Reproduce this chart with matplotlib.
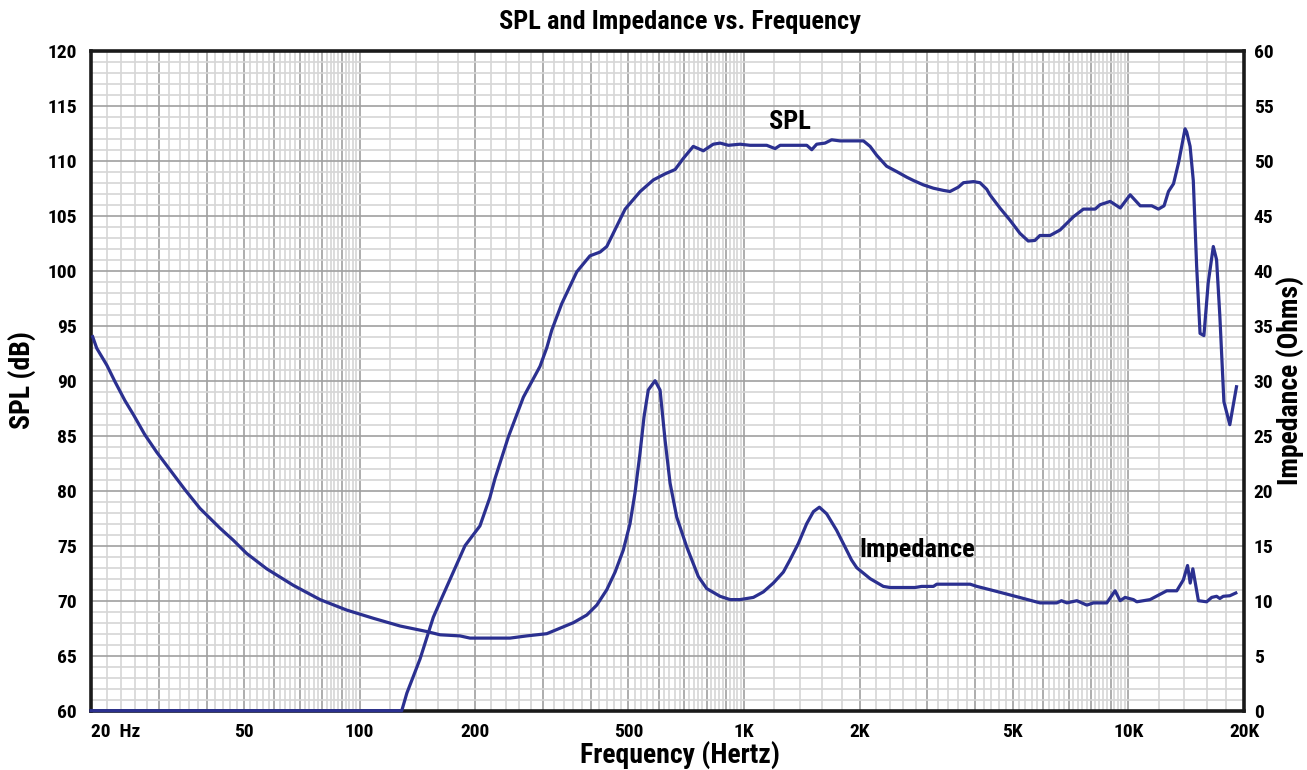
import numpy as np
import matplotlib
matplotlib.use("Agg")
import matplotlib.pyplot as plt
from matplotlib import font_manager
from matplotlib.ticker import FixedLocator, FuncFormatter, MultipleLocator

# choose a narrow bold sans if available
_names = sorted({f.name for f in font_manager.fontManager.ttflist})
_narrow = [n for n in _names if ('Narrow' in n or 'Condensed' in n) and 'Mono' not in n]
_pref = ['Liberation Sans Narrow', 'Roboto Condensed', 'Open Sans Condensed', 'DejaVu Sans Condensed']
_chosen = None
for p in _pref:
    if p in _names:
        _chosen = p
        break
if _chosen is None and _narrow:
    _chosen = _narrow[0]
if _chosen is None:
    _chosen = 'Liberation Sans'
FONT = [_chosen, 'DejaVu Sans']
plt.rcParams['font.family'] = FONT
plt.rcParams['font.weight'] = 'bold'

# ---- data ----
spl_freq = [20, 128.7, 132.7, 143.6, 155.5, 161.9, 188, 205.6, 218.3, 225, 243.8, 266.7,
            294.6, 306.9, 316.2, 335.6, 367.3, 397.4, 422.5, 439.6, 490.7, 537, 581, 623,
            662, 695, 738, 784, 832, 867, 911, 977, 1037, 1146, 1205, 1242, 1457, 1501,
            1546, 1625, 1691, 1778, 2046, 2129, 2214, 2350, 2500, 2652, 2761, 2930, 3111,
            3303, 3436, 3614, 3724, 3953, 4112, 4283, 4365, 4634, 4920, 5223, 5490, 5715,
            5887, 6257, 6645, 7196, 7641, 8197, 8446, 8972, 9529, 10110, 10740, 11510,
            11980, 12390, 12720, 13110, 13510, 14050, 14190, 14480, 14760, 15060, 15370,
            15730, 16140, 16640, 16970, 17310, 17730, 18370, 19120]
spl_db = [60, 60, 61.6, 64.7, 68.5, 69.9, 75.0, 76.8, 79.4, 81.1, 84.9, 88.5,
          91.3, 93.0, 94.6, 97.0, 99.9, 101.35, 101.7, 102.2, 105.6, 107.2, 108.25, 108.8,
          109.2, 110.2, 111.3, 110.9, 111.5, 111.6, 111.4, 111.5, 111.4, 111.4, 111.1, 111.4, 111.4, 111.0,
          111.5, 111.6, 111.9, 111.8, 111.8, 111.3, 110.5, 109.5, 109.0, 108.5, 108.2, 107.8, 107.5,
          107.3, 107.2, 107.6, 108.0, 108.1, 108.0, 107.4, 106.9, 105.7, 104.6, 103.4, 102.7, 102.75,
          103.2, 103.2, 103.7, 104.9, 105.6, 105.6, 106.0, 106.3, 105.7, 106.9, 105.9, 105.9,
          105.6, 105.9, 107.2, 107.9, 109.8, 112.9, 112.6, 111.3, 108.2, 100.4, 94.3,
          94.1, 98.9, 102.2, 101.0, 95.8, 88.1, 86.0, 89.45]

imp_freq = [20.2, 20.7, 22.0, 23.1, 24.5, 25.8, 27.6, 29.65, 32.1, 35.1, 38.4, 43.3, 46.9,
            50.8, 57.3, 67.2, 78.9, 92.5, 108.6, 127.4, 149.4, 161.9, 182.4, 193.7, 246.2,
            272.2, 306.8, 332.2, 359.8, 390, 414, 439.6, 462, 485.3, 505.2, 520.5, 536.4,
            549.4, 563.6, 587, 604.9, 623.3, 642.2, 668.4, 709.6, 760.7, 800, 866.6, 920,
            977, 1058, 1123, 1192, 1266, 1317, 1385, 1456, 1516, 1571, 1641, 1742, 1831,
            1905, 1965, 2130, 2305, 2400, 2787, 2900, 3111, 3174, 3877, 4036, 4365, 4832,
            5339, 5892, 6514, 6700, 6920, 7348, 7800, 8113, 8790, 9237, 9520, 9810, 10310,
            10520, 11390, 12590, 13370, 13910, 14260, 14490, 14720, 15220, 15990, 16480,
            16970, 17310, 17660, 18370, 19040]
imp_ohm = [34.0, 32.95, 31.4, 29.9, 28.2, 26.9, 25.1, 23.5, 21.9, 20.1, 18.4, 16.6, 15.5,
           14.3, 12.9, 11.4, 10.1, 9.15, 8.4, 7.7, 7.2, 6.9, 6.8, 6.6, 6.6,
           6.8, 7.0, 7.5, 8.0, 8.7, 9.6, 11.0, 12.6, 14.6, 17.0, 19.8, 23.4,
           26.7, 29.15, 30.0, 29.15, 24.6, 20.7, 17.6, 14.9, 12.2, 11.1, 10.4, 10.1,
           10.1, 10.3, 10.8, 11.6, 12.6, 13.7, 15.2, 17.0, 18.1, 18.5, 17.9, 16.4, 14.9,
           13.7, 13.0, 12.0, 11.3, 11.2, 11.2, 11.3, 11.3, 11.5, 11.5, 11.3, 11.0, 10.6,
           10.2, 9.8, 9.8, 10.0, 9.8, 10.0, 9.6, 9.8, 9.8, 10.9, 10.0, 10.3, 10.1,
           9.9, 10.1, 10.9, 10.9, 11.9, 13.2, 11.6, 12.9, 10.0, 9.9, 10.3,
           10.4, 10.2, 10.4, 10.45, 10.7]

xtick_vals = [20, 50, 100, 200, 500, 1000, 2000, 5000, 10000, 20000]
xtick_labels = ['20  Hz', '50', '100', '200', '500', '1K', '2K', '5K', '10K', '20K']

LINE = '#2b3090'
DARK = '#a0a0a0'
LIGHT = '#d6d6d6'

fig = plt.figure(figsize=(13.07, 7.70), dpi=100)
ax = fig.add_axes([91/1307, (770-710.7)/770, (1244-91)/1307, (710.7-50.7)/770])
ax.set_xscale('log')
ax.set_xlim(20, 20000)
ax.set_ylim(60, 120)

# grid positions: dark at n*10^k, light every 0.2*10^k
major_x = []
minor_x = []
for k in range(1, 5):
    base = 10 ** k
    for n in range(1, 10):
        v = n * base
        if 20 <= v <= 20000:
            major_x.append(v)
    for m in range(5, 50):
        v = m * 0.2 * base
        if 20 < v < 20000 and abs(v / base - round(v / base)) > 1e-9 and v < 10 * base:
            minor_x.append(v)
ax.xaxis.set_major_locator(FixedLocator(major_x))
ax.xaxis.set_minor_locator(FixedLocator(minor_x))
ax.yaxis.set_major_locator(MultipleLocator(5))
ax.yaxis.set_minor_locator(MultipleLocator(1))

ax.grid(True, which='minor', color=LIGHT, lw=1.2, zorder=0)
ax.grid(True, which='major', color=DARK, lw=1.2, zorder=1)
ax.set_axisbelow(True)

lab = dict(zip(xtick_vals, xtick_labels))
ax.xaxis.set_major_formatter(FuncFormatter(lambda v, p: lab.get(int(round(v)), '')))
ax.xaxis.set_minor_formatter(FuncFormatter(lambda v, p: ''))
ax.tick_params(axis='both', which='both', length=0)
ax.tick_params(axis='x', which='major', pad=9, labelsize=14)
ax.tick_params(axis='y', which='major', pad=10, labelsize=14)
for t in ax.get_xticklabels():
    if t.get_text().startswith('20 '):
        t.set_horizontalalignment('left')
for t in ax.get_xticklabels() + ax.get_yticklabels():
    t.set_fontweight('bold')

for s in ax.spines.values():
    s.set_linewidth(2.6)
    s.set_color('#1a1a1a')

ax2 = ax.twinx()
ax2.set_ylim(0, 60)
ax2.yaxis.set_major_locator(MultipleLocator(5))
ax2.tick_params(axis='y', length=0, pad=7, labelsize=14)
for t in ax2.get_yticklabels():
    t.set_fontweight('bold')
for s in ax2.spines.values():
    s.set_visible(False)

ax.plot(spl_freq, spl_db, color=LINE, lw=2.3, zorder=5, clip_on=False, solid_joinstyle='round')
ax2.plot(imp_freq, imp_ohm, color=LINE, lw=2.3, zorder=5, clip_on=False, solid_joinstyle='round')

ax.text(1318, 113.5, 'SPL', fontsize=19, fontweight='bold', ha='center', va='center', zorder=6)
ax.text(2820, 74.6, 'Impedance', fontsize=19, fontweight='bold', ha='center', va='center', zorder=6)

fig.text(680/1307, 1 - 22/770, 'SPL and Impedance vs. Frequency', fontsize=19,
         fontweight='bold', ha='center', va='center')
fig.text(680/1307, 1 - 755/770, 'Frequency (Hertz)', fontsize=20,
         fontweight='bold', ha='center', va='center')
fig.text(22/1307, 1 - 380/770, 'SPL (dB)', fontsize=20, fontweight='bold',
         ha='center', va='center', rotation=90)
fig.text(1290/1307, 1 - 380/770, 'Impedance (Ohms)', fontsize=20, fontweight='bold',
         ha='center', va='center', rotation=90)

fig.savefig('out.png', dpi=100)
